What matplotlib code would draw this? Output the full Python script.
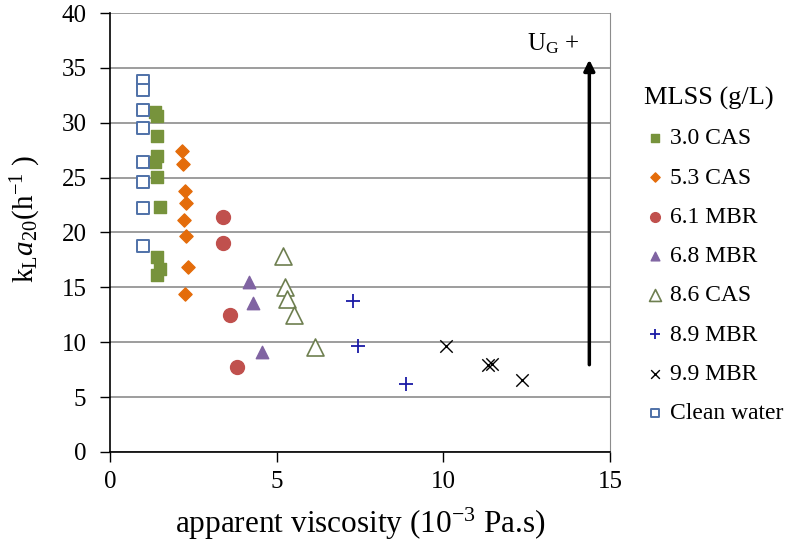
import matplotlib
matplotlib.use('Agg')
import matplotlib.pyplot as plt

# data (viscosity in 1e-3 Pa.s, kLa20 in 1/h)
cas30_x = [1.35, 1.4, 1.4, 1.4, 1.35, 1.4, 1.5, 1.4, 1.5, 1.4]
cas30_y = [31.0, 30.6, 28.8, 27.0, 26.4, 25.1, 22.3, 17.8, 16.7, 16.1]
cas53_x = [2.15, 2.18, 2.25, 2.27, 2.23, 2.27, 2.34, 2.25]
cas53_y = [27.4, 26.2, 23.8, 22.7, 21.1, 19.7, 16.9, 14.4]
mbr61_x = [3.4, 3.4, 3.6, 3.8]
mbr61_y = [21.4, 19.0, 12.5, 7.7]
mbr68_x = [4.18, 4.28, 4.55]
mbr68_y = [15.5, 13.6, 9.1]
cas86_x = [5.2, 5.25, 5.3, 5.52, 6.15]
cas86_y = [17.9, 15.0, 13.9, 12.5, 9.6]
mbr89_x = [7.3, 7.45, 8.89]
mbr89_y = [13.8, 9.7, 6.2]
mbr99_x = [10.08, 11.34, 11.46, 12.36]
mbr99_y = [9.7, 7.9, 8.05, 6.6]
clean_x = [1.0, 1.0, 1.0, 1.0, 1.0, 1.0, 1.0, 1.0]
clean_y = [33.8, 33.0, 31.2, 29.5, 26.4, 24.6, 22.2, 18.8]

plt.rcParams['font.family'] = ['Liberation Serif', 'DejaVu Serif']
plt.rcParams['mathtext.fontset'] = 'custom'
plt.rcParams['mathtext.rm'] = 'Liberation Serif'
plt.rcParams['mathtext.it'] = 'Liberation Serif:italic'

fig = plt.figure(figsize=(7.98, 5.49), dpi=100)
ax = fig.add_axes([110 / 798, 1 - 452 / 549, 500 / 798, 439 / 549])

ax.scatter(cas30_x, cas30_y, marker='s', s=75, color='#77933C', label='3.0 CAS', zorder=3)
ax.scatter(cas53_x, cas53_y, marker='D', s=45, color='#E46C0A', label='5.3 CAS', zorder=3)
ax.scatter(mbr61_x, mbr61_y, marker='o', s=100, color='#C0504D', label='6.1 MBR', zorder=3)
ax.scatter(mbr68_x, mbr68_y, marker='^', s=80, color='#8064A2', label='6.8 MBR', zorder=3)
ax.scatter(cas86_x, cas86_y, marker='^', s=150, facecolors='white', edgecolors='#6E7F50',
           linewidths=1.2, label='8.6 CAS', zorder=3)
ax.scatter(mbr89_x, mbr89_y, marker='+', s=110, color='#1A1AA6', linewidths=1.3, label='8.9 MBR', zorder=3)
ax.scatter(mbr99_x, mbr99_y, marker='x', s=80, color='black', linewidths=1.0, label='9.9 MBR', zorder=3)
ax.scatter(clean_x, clean_y, marker='s', s=85, facecolors='white', edgecolors='#4F71A8',
           linewidths=1.4, label='Clean water', zorder=3)

# superficial gas velocity arrow
ax.annotate('', xy=(14.38, 36.0), xytext=(14.38, 7.7),
            arrowprops=dict(arrowstyle='-|>', color='black', lw=2.5, mutation_scale=16))
ax.text(12.5, 37.2, r'U$_\mathregular{G}$ +', fontsize=18, ha='left', va='center')

ax.set_xlim(0, 15)
ax.set_ylim(0, 40)
ax.set_xticks([0, 5, 10, 15])
ax.set_yticks(range(0, 41, 5))
ax.yaxis.grid(True, color='#8c8c8c', linewidth=1.2)
ax.set_axisbelow(True)
ax.tick_params(axis='both', labelsize=18, length=7, width=1, color='black')
ax.tick_params(axis='y', pad=10)
ax.tick_params(axis='x', pad=7)
ax.spines['top'].set_visible(False)
ax.spines['right'].set_color('#8c8c8c')
ax.spines['left'].set_linewidth(1.2)
ax.spines['bottom'].set_linewidth(1.2)

ax.set_xlabel(r'apparent viscosity (10$^\mathregular{-3}$ Pa.s)', fontsize=22.5, labelpad=9)
ax.set_ylabel(r'k$_\mathregular{L}$$a_{20}$(h$^\mathregular{-1}$ )', fontsize=21, labelpad=8)
ax.yaxis.set_label_coords(-0.135, 0.53)

leg = ax.legend(loc='upper left', bbox_to_anchor=(1.02, 0.885), frameon=False, fontsize=17,
                title='MLSS (g/L)', title_fontsize=19, handletextpad=0.1, labelspacing=0.75,
                markerscale=0.7, alignment='left', handlelength=1.0, borderpad=0.5)

fig.savefig('out.png', dpi=100)
